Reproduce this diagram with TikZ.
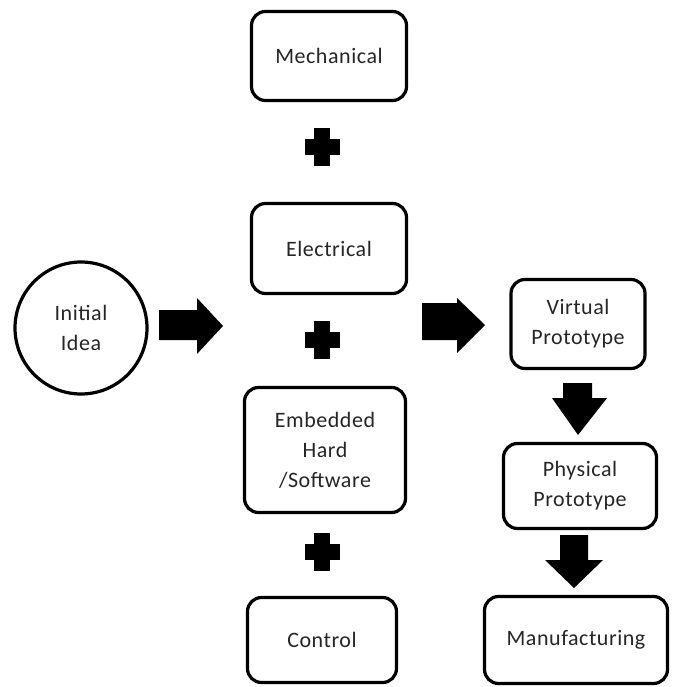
\documentclass[tikz,border=0pt]{standalone}
\usepackage{fontspec}
\setmainfont{Carlito}[LetterSpace=2.5]
\begin{document}
\begin{tikzpicture}[x=1pt,y=-1pt,
  box/.style={draw=black,line width=3.2pt,rounded corners=14pt,fill=white,
    align=center,font=\fontsize{22}{30}\selectfont,text=black!85,inner sep=0pt},
  idea/.style={draw=black,line width=3.2pt,circle,fill=white,minimum size=132pt,
    align=center,font=\fontsize{22}{30}\selectfont,text=black!85,inner sep=0pt},
  blk/.style={fill=black}]
\useasboundingbox (0,0) rectangle (672,687);
\node[idea] (idea) at (81,328) {Initial\\Idea};
\node[box,minimum width=155pt,minimum height=89pt] (mech) at (329,56) {Mechanical};
\node[box,minimum width=155pt,minimum height=90pt] (elec) at (329,248.5) {Electrical};
\node[box,minimum width=161pt,minimum height=125pt] (emb) at (325,450) {Embedded\\Hard\\/Software};
\node[box,minimum width=149pt,minimum height=85pt] (ctrl) at (322,640) {Control};
\node[box,minimum width=134pt,minimum height=89pt] (virt) at (578,324) {Virtual\\Prototype};
\node[box,minimum width=153pt,minimum height=85pt] (phys) at (580,486) {Physical\\Prototype};
\node[box,minimum width=183pt,minimum height=87pt] (manu) at (576,640) {Manufacturing};
% plus signs
\foreach \cy/\nm in {147/p1,340/p2,552/p3}{
  \coordinate (\nm) at (322,\cy);
  \fill[blk] ([shift={(-8,-19)}]\nm) rectangle ([shift={(8,19)}]\nm);
  \fill[blk] ([shift={(-17.5,-8)}]\nm) rectangle ([shift={(17.5,8)}]\nm);
}
% block arrows
\fill[blk] (159,310) -- (197,310) -- (197,298) -- (223,326) -- (197,354) -- (197,340) -- (159,340) -- cycle;
\fill[blk] (422,303) -- (457,303) -- (457,298) -- (485,325) -- (457,353) -- (457,340) -- (422,340) -- cycle;
\fill[blk] (563,383) -- (592,383) -- (592,398) -- (607,398) -- (578,435) -- (552,398) -- (563,398) -- cycle;
\fill[blk] (560,535) -- (588,535) -- (588,560) -- (603,560) -- (574,588) -- (545,560) -- (560,560) -- cycle;
\end{tikzpicture}
\end{document}
